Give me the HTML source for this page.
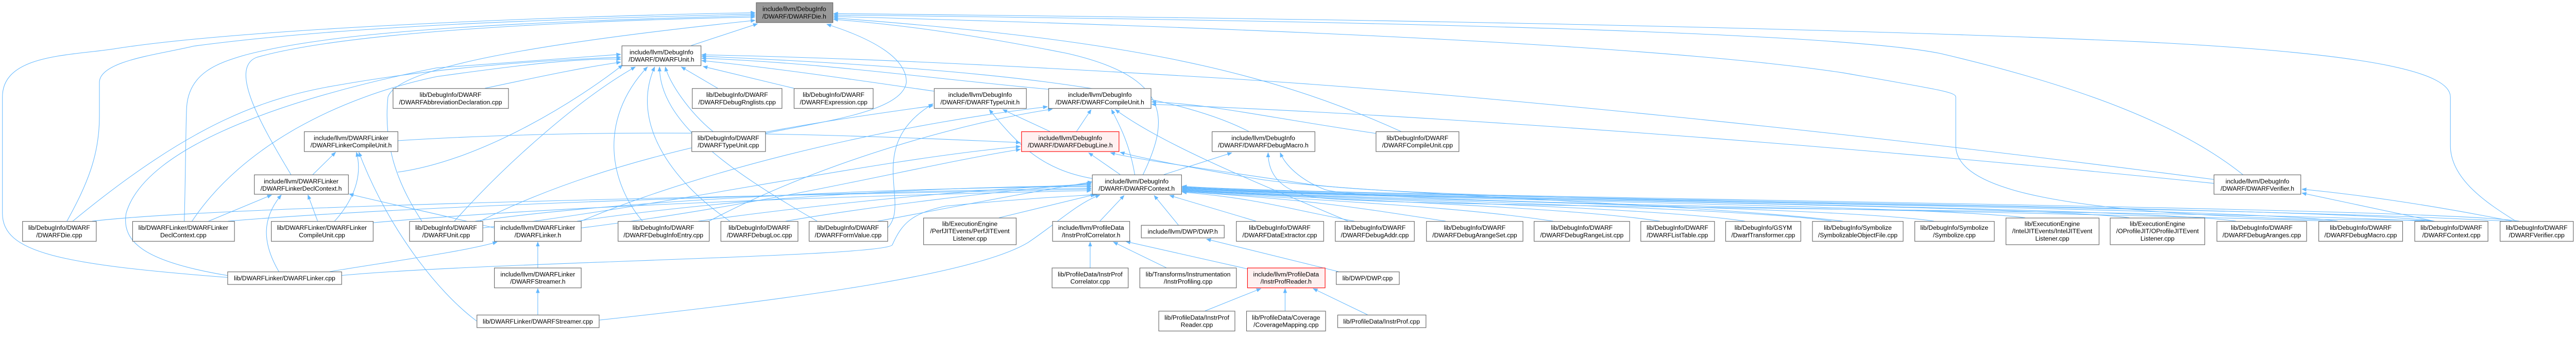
<!DOCTYPE html>
<html><head><meta charset="utf-8">
<style>
html,body{margin:0;padding:0;background:#fff;width:100%;height:100%;overflow:hidden;}
svg{display:block;width:100vw;height:100vh;max-width:5312px;}
text{font-family:"Liberation Sans",Arial,sans-serif;font-size:13px;fill:#000;text-anchor:middle;}
.n{fill:#fff;stroke:#666;stroke-width:1.2;}
.r{fill:#fff0f0;stroke:#f00;stroke-width:1.2;}
.g{fill:#999;stroke:#666;stroke-width:1.2;}
path.e{fill:none;stroke:#63b8ff;stroke-width:1.1;}
</style></head><body>
<svg viewBox="0 0 5312 687" preserveAspectRatio="xMinYMin meet" xmlns="http://www.w3.org/2000/svg">
<defs><marker id="a" viewBox="0 0 10 8" refX="9" refY="4" markerWidth="10" markerHeight="8" markerUnits="userSpaceOnUse" orient="auto"><path d="M0,0 L10,4 L0,8 z" fill="#63b8ff"/></marker></defs>
<g marker-end="url(#a)">
<path class="e" d="M469,572 C120,545 5,520 5,440 L5,200 C5,110 150,115 240,100 C500,60 1100,35 1557,26"/>
<path class="e" d="M138,456 C180,380 205,320 205,240 L205,170 C205,125 330,112 400,95 C700,55 1100,40 1557,29"/>
<path class="e" d="M380,456 C383,350 383,250 385,220 C390,150 450,130 500,115 C700,60 1100,45 1557,32"/>
<path class="e" d="M600,360 C540,260 470,140 530,118 C700,70 1100,45 1557,35"/>
<path class="e" d="M870,456 C820,380 790,300 800,200 C820,140 1100,90 1557,42"/>
<path class="e" d="M1425,94 L1562,49"/>
<path class="e" d="M5188,456 C5130,420 5053,370 5053,300 L5053,200 C5053,150 4900,110 4412,86 C3600,50 2500,36 1719,28"/>
<path class="e" d="M4625,360 C4500,260 4300,180 4000,110 C3800,70 3000,45 1719,31"/>
<path class="e" d="M5020,456 C4950,450 4800,460 4500,440 C4200,420 4033,380 4033,300 L4033,200 C4033,190 4000,185 3800,150 C3400,90 2500,55 1719,34"/>
<path class="e" d="M2889,271 C2600,140 2300,80 1719,37"/>
<path class="e" d="M2357,360 C2410,250 2420,160 2200,110 C2000,70 1850,50 1719,40"/>
<path class="e" d="M1578,275 C1700,250 1860,230 1869,170 C1870,120 1800,80 1705,50"/>
<path class="e" d="M1000,182 C1150,150 1200,140 1280,128"/>
<path class="e" d="M1480,182 L1405,138"/>
<path class="e" d="M1637,182 L1450,137"/>
<path class="e" d="M1470,271 C1420,230 1380,170 1372,138"/>
<path class="e" d="M937,456 C1050,330 1200,200 1310,138"/>
<path class="e" d="M1325,456 C1260,380 1230,250 1335,138"/>
<path class="e" d="M1505,456 C1380,370 1300,250 1350,138"/>
<path class="e" d="M1685,456 C1500,350 1360,250 1360,138"/>
<path class="e" d="M820,355 C1000,330 1200,200 1284,134"/>
<path class="e" d="M150,456 C400,250 550,200 700,175 C900,140 1100,125 1280,118"/>
<path class="e" d="M396,456 C500,300 700,200 900,158 C1100,130 1200,120 1280,122"/>
<path class="e" d="M469,568 C300,540 250,500 260,440 C300,300 600,200 900,140 C1100,125 1200,118 1280,112"/>
<path class="e" d="M1926,188 C1800,170 1600,140 1447,125"/>
<path class="e" d="M2162,184 C1900,160 1700,130 1447,120"/>
<path class="e" d="M2575,271 C2400,180 2000,140 1447,116"/>
<path class="e" d="M4565,370 C3800,270 3000,190 2500,160 C2000,130 1700,118 1447,113"/>
<path class="e" d="M2165,271 L2068,226"/>
<path class="e" d="M2252,368 C2150,350 2100,300 2040,226"/>
<path class="e" d="M990,456 C1300,300 1700,250 1924,218"/>
<path class="e" d="M1830,470 C1880,420 1780,300 1924,214"/>
<path class="e" d="M2220,271 L2250,226"/>
<path class="e" d="M2340,360 C2330,300 2310,260 2292,226"/>
<path class="e" d="M2780,456 C2600,380 2400,300 2300,226"/>
<path class="e" d="M2837,275 C2600,240 2500,215 2375,210"/>
<path class="e" d="M4565,378 C3800,300 3000,240 2375,215"/>
<path class="e" d="M1198,456 C1500,330 1900,250 2160,220"/>
<path class="e" d="M1462,456 C1700,330 2000,250 2170,225"/>
<path class="e" d="M2310,360 L2245,315"/>
<path class="e" d="M995,470 C1400,420 1800,330 2104,302"/>
<path class="e" d="M820,290 C1300,260 1800,280 2104,294"/>
<path class="e" d="M1198,470 C1600,420 1900,340 2104,308"/>
<path class="e" d="M5170,456 C4500,420 3000,420 2700,380 C2500,350 2350,330 2290,315"/>
<path class="e" d="M3800,456 C3500,420 2800,400 2600,370 C2450,345 2350,325 2310,314"/>
<path class="e" d="M2400,360 L2540,315"/>
<path class="e" d="M4810,456 C4000,430 2800,420 2730,390 C2680,370 2650,340 2640,315"/>
<path class="e" d="M5000,456 C4500,430 2800,430 2700,405 C2640,390 2615,360 2615,315"/>
<path class="e" d="M190,456 C500,420 1800,400 2250,390"/>
<path class="e" d="M470,456 C900,420 1800,395 2250,388"/>
<path class="e" d="M760,460 C1200,420 1900,400 2250,393"/>
<path class="e" d="M980,456 C1300,410 1900,385 2250,385"/>
<path class="e" d="M1190,456 C1500,410 1900,385 2250,383"/>
<path class="e" d="M1440,456 C1700,420 2000,390 2250,380"/>
<path class="e" d="M1620,456 C1800,425 2050,395 2250,378"/>
<path class="e" d="M1810,456 C1950,430 2100,400 2252,375"/>
<path class="e" d="M2060,449 L2258,401"/>
<path class="e" d="M704,568 C1000,540 1820,530 1840,505 C1860,460 1880,440 1950,425 C2100,410 2200,405 2262,401"/>
<path class="e" d="M1235,660 C1700,610 2020,560 2120,500 C2180,460 2220,420 2268,402"/>
<path class="e" d="M2268,456 L2318,403"/>
<path class="e" d="M2430,464 L2380,403"/>
<path class="e" d="M2590,456 L2412,403"/>
<path class="e" d="M2793,456 C2650,430 2600,410 2438,396"/>
<path class="e" d="M2981,456 C2780,425 2700,412 2438,395"/>
<path class="e" d="M3203,456 C3003,425 2700,412 2438,394"/>
<path class="e" d="M3423,456 C3223,425 2700,410 2438,393"/>
<path class="e" d="M3598,456 C3398,425 2700,410 2438,392"/>
<path class="e" d="M3777,456 C3577,425 2700,410 2438,391"/>
<path class="e" d="M3988,456 C3788,425 2700,410 2438,390"/>
<path class="e" d="M4176,449 C3976,422 2700,408 2438,389"/>
<path class="e" d="M4391,449 C4191,422 2700,408 2438,388"/>
<path class="e" d="M4611,456 C4411,425 2700,408 2438,387"/>
<path class="e" d="M4821,456 C4621,425 2700,408 2438,386"/>
<path class="e" d="M5019,456 C4819,425 2700,406 2438,385"/>
<path class="e" d="M5195,456 C4995,425 2700,405 2438,384"/>
<path class="e" d="M5020,456 C4900,430 4800,410 4747,398"/>
<path class="e" d="M5180,456 C5000,420 4850,400 4747,390"/>
<path class="e" d="M2248,552 L2248,499"/>
<path class="e" d="M2405,552 L2296,499"/>
<path class="e" d="M2575,555 L2322,498"/>
<path class="e" d="M2760,560 L2488,493"/>
<path class="e" d="M2485,641 L2600,595"/>
<path class="e" d="M2650,641 L2650,595"/>
<path class="e" d="M2820,649 L2708,595"/>
<path class="e" d="M1109,552 L1109,499"/>
<path class="e" d="M1109,649 L1109,595"/>
<path class="e" d="M680,560 C800,540 950,520 1025,499"/>
<path class="e" d="M645,360 L692,314"/>
<path class="e" d="M690,456 C740,400 745,350 735,314"/>
<path class="e" d="M983,662 C900,600 800,470 740,314"/>
<path class="e" d="M430,456 L560,402"/>
<path class="e" d="M655,456 L635,402"/>
<path class="e" d="M575,560 C540,500 540,450 580,402"/>
<path class="e" d="M1019,470 C900,440 800,420 720,400"/>
</g>
<g>
<rect class="g" x="1559.5" y="5.5" width="158" height="41"/><text x="1638" y="23">include/llvm/DebugInfo</text><text x="1638" y="38">/DWARF/DWARFDie.h</text>
<rect class="n" x="1282.5" y="94.5" width="163" height="41"/><text x="1364" y="112">include/llvm/DebugInfo</text><text x="1364" y="127">/DWARF/DWARFUnit.h</text>
<rect class="n" x="810.5" y="182.5" width="238" height="41"/><text x="929" y="200">lib/DebugInfo/DWARF</text><text x="929" y="215">/DWARFAbbreviationDeclaration.cpp</text>
<rect class="n" x="1427.5" y="182.5" width="185" height="41"/><text x="1520" y="200">lib/DebugInfo/DWARF</text><text x="1520" y="215">/DWARFDebugRnglists.cpp</text>
<rect class="n" x="1637.5" y="182.5" width="163" height="41"/><text x="1719" y="200">lib/DebugInfo/DWARF</text><text x="1719" y="215">/DWARFExpression.cpp</text>
<rect class="n" x="1926.5" y="182.5" width="190" height="41"/><text x="2021" y="200">include/llvm/DebugInfo</text><text x="2021" y="215">/DWARF/DWARFTypeUnit.h</text>
<rect class="n" x="2162.5" y="182.5" width="211" height="41"/><text x="2268" y="200">include/llvm/DebugInfo</text><text x="2268" y="215">/DWARF/DWARFCompileUnit.h</text>
<rect class="n" x="627.5" y="271.5" width="193" height="41"/><text x="724" y="289">include/llvm/DWARFLinker</text><text x="724" y="304">/DWARFLinkerCompileUnit.h</text>
<rect class="n" x="1426.5" y="271.5" width="152" height="41"/><text x="1502" y="289">lib/DebugInfo/DWARF</text><text x="1502" y="304">/DWARFTypeUnit.cpp</text>
<rect class="r" x="2106.5" y="271.5" width="201" height="41"/><text x="2207" y="289">include/llvm/DebugInfo</text><text x="2207" y="304">/DWARF/DWARFDebugLine.h</text>
<rect class="n" x="2499.5" y="271.5" width="212" height="41"/><text x="2605" y="289">include/llvm/DebugInfo</text><text x="2605" y="304">/DWARF/DWARFDebugMacro.h</text>
<rect class="n" x="2837.5" y="271.5" width="171" height="41"/><text x="2923" y="289">lib/DebugInfo/DWARF</text><text x="2923" y="304">/DWARFCompileUnit.cpp</text>
<rect class="n" x="524.5" y="360.5" width="194" height="40"/><text x="621" y="378">include/llvm/DWARFLinker</text><text x="621" y="393">/DWARFLinkerDeclContext.h</text>
<rect class="n" x="2252.5" y="360.5" width="184" height="40"/><text x="2344" y="378">include/llvm/DebugInfo</text><text x="2344" y="393">/DWARF/DWARFContext.h</text>
<rect class="n" x="4565.5" y="360.5" width="179" height="40"/><text x="4655" y="378">include/llvm/DebugInfo</text><text x="4655" y="393">/DWARF/DWARFVerifier.h</text>
<rect class="n" x="46.5" y="456.5" width="152" height="41"/><text x="122" y="474">lib/DebugInfo/DWARF</text><text x="122" y="489">/DWARFDie.cpp</text>
<rect class="n" x="273.5" y="456.5" width="210" height="41"/><text x="378" y="474">lib/DWARFLinker/DWARFLinker</text><text x="378" y="489">DeclContext.cpp</text>
<rect class="n" x="559.5" y="456.5" width="210" height="41"/><text x="664" y="474">lib/DWARFLinker/DWARFLinker</text><text x="664" y="489">CompileUnit.cpp</text>
<rect class="n" x="844.5" y="456.5" width="151" height="41"/><text x="920" y="474">lib/DebugInfo/DWARF</text><text x="920" y="489">/DWARFUnit.cpp</text>
<rect class="n" x="1019.5" y="456.5" width="179" height="41"/><text x="1109" y="474">include/llvm/DWARFLinker</text><text x="1109" y="489">/DWARFLinker.h</text>
<rect class="n" x="1274.5" y="456.5" width="188" height="41"/><text x="1368" y="474">lib/DebugInfo/DWARF</text><text x="1368" y="489">/DWARFDebugInfoEntry.cpp</text>
<rect class="n" x="1486.5" y="456.5" width="159" height="41"/><text x="1566" y="474">lib/DebugInfo/DWARF</text><text x="1566" y="489">/DWARFDebugLoc.cpp</text>
<rect class="n" x="1668.5" y="456.5" width="162" height="41"/><text x="1749" y="474">lib/DebugInfo/DWARF</text><text x="1749" y="489">/DWARFFormValue.cpp</text>
<rect class="n" x="1904.5" y="449.5" width="191" height="55"/><text x="2000" y="466">lib/ExecutionEngine</text><text x="2000" y="481">/PerfJITEvents/PerfJITEvent</text><text x="2000" y="496">Listener.cpp</text>
<rect class="n" x="2170.5" y="456.5" width="159" height="41"/><text x="2250" y="474">include/llvm/ProfileData</text><text x="2250" y="489">/InstrProfCorrelator.h</text>
<rect class="n" x="2353.5" y="464.5" width="171" height="26"/><text x="2439" y="482">include/llvm/DWP/DWP.h</text>
<rect class="n" x="2549.5" y="456.5" width="180" height="41"/><text x="2639" y="474">lib/DebugInfo/DWARF</text><text x="2639" y="489">/DWARFDataExtractor.cpp</text>
<rect class="n" x="2753.5" y="456.5" width="163" height="41"/><text x="2835" y="474">lib/DebugInfo/DWARF</text><text x="2835" y="489">/DWARFDebugAddr.cpp</text>
<rect class="n" x="2941.5" y="456.5" width="199" height="41"/><text x="3041" y="474">lib/DebugInfo/DWARF</text><text x="3041" y="489">/DWARFDebugArangeSet.cpp</text>
<rect class="n" x="3163.5" y="456.5" width="197" height="41"/><text x="3262" y="474">lib/DebugInfo/DWARF</text><text x="3262" y="489">/DWARFDebugRangeList.cpp</text>
<rect class="n" x="3383.5" y="456.5" width="152" height="41"/><text x="3459" y="474">lib/DebugInfo/DWARF</text><text x="3459" y="489">/DWARFListTable.cpp</text>
<rect class="n" x="3558.5" y="456.5" width="155" height="41"/><text x="3636" y="474">lib/DebugInfo/GSYM</text><text x="3636" y="489">/DwarfTransformer.cpp</text>
<rect class="n" x="3737.5" y="456.5" width="187" height="41"/><text x="3831" y="474">lib/DebugInfo/Symbolize</text><text x="3831" y="489">/SymbolizableObjectFile.cpp</text>
<rect class="n" x="3948.5" y="456.5" width="164" height="41"/><text x="4030" y="474">lib/DebugInfo/Symbolize</text><text x="4030" y="489">/Symbolize.cpp</text>
<rect class="n" x="4136.5" y="449.5" width="192" height="55"/><text x="4232" y="466">lib/ExecutionEngine</text><text x="4232" y="481">/IntelJITEvents/IntelJITEvent</text><text x="4232" y="496">Listener.cpp</text>
<rect class="n" x="4351.5" y="449.5" width="195" height="55"/><text x="4449" y="466">lib/ExecutionEngine</text><text x="4449" y="481">/OProfileJIT/OProfileJITEvent</text><text x="4449" y="496">Listener.cpp</text>
<rect class="n" x="4571.5" y="456.5" width="185" height="41"/><text x="4664" y="474">lib/DebugInfo/DWARF</text><text x="4664" y="489">/DWARFDebugAranges.cpp</text>
<rect class="n" x="4781.5" y="456.5" width="173" height="41"/><text x="4868" y="474">lib/DebugInfo/DWARF</text><text x="4868" y="489">/DWARFDebugMacro.cpp</text>
<rect class="n" x="4979.5" y="456.5" width="151" height="41"/><text x="5055" y="474">lib/DebugInfo/DWARF</text><text x="5055" y="489">/DWARFContext.cpp</text>
<rect class="n" x="5155.5" y="456.5" width="151" height="41"/><text x="5231" y="474">lib/DebugInfo/DWARF</text><text x="5231" y="489">/DWARFVerifier.cpp</text>
<rect class="n" x="469.5" y="560.5" width="235" height="26"/><text x="587" y="578">lib/DWARFLinker/DWARFLinker.cpp</text>
<rect class="n" x="1019.5" y="552.5" width="179" height="41"/><text x="1109" y="570">include/llvm/DWARFLinker</text><text x="1109" y="585">/DWARFStreamer.h</text>
<rect class="n" x="2169.5" y="552.5" width="157" height="41"/><text x="2248" y="570">lib/ProfileData/InstrProf</text><text x="2248" y="585">Correlator.cpp</text>
<rect class="n" x="2350.5" y="552.5" width="199" height="41"/><text x="2450" y="570">lib/Transforms/Instrumentation</text><text x="2450" y="585">/InstrProfiling.cpp</text>
<rect class="r" x="2572.5" y="552.5" width="160" height="41"/><text x="2652" y="570">include/llvm/ProfileData</text><text x="2652" y="585">/InstrProfReader.h</text>
<rect class="n" x="2755.5" y="560.5" width="130" height="26"/><text x="2820" y="578">lib/DWP/DWP.cpp</text>
<rect class="n" x="983.5" y="649.5" width="252" height="26"/><text x="1109" y="667">lib/DWARFLinker/DWARFStreamer.cpp</text>
<rect class="n" x="2389.5" y="641.5" width="157" height="41"/><text x="2468" y="659">lib/ProfileData/InstrProf</text><text x="2468" y="674">Reader.cpp</text>
<rect class="n" x="2570.5" y="641.5" width="163" height="41"/><text x="2652" y="659">lib/ProfileData/Coverage</text><text x="2652" y="674">/CoverageMapping.cpp</text>
<rect class="n" x="2758.5" y="649.5" width="182" height="26"/><text x="2849" y="667">lib/ProfileData/InstrProf.cpp</text>
</g>
</svg>
</body></html>
